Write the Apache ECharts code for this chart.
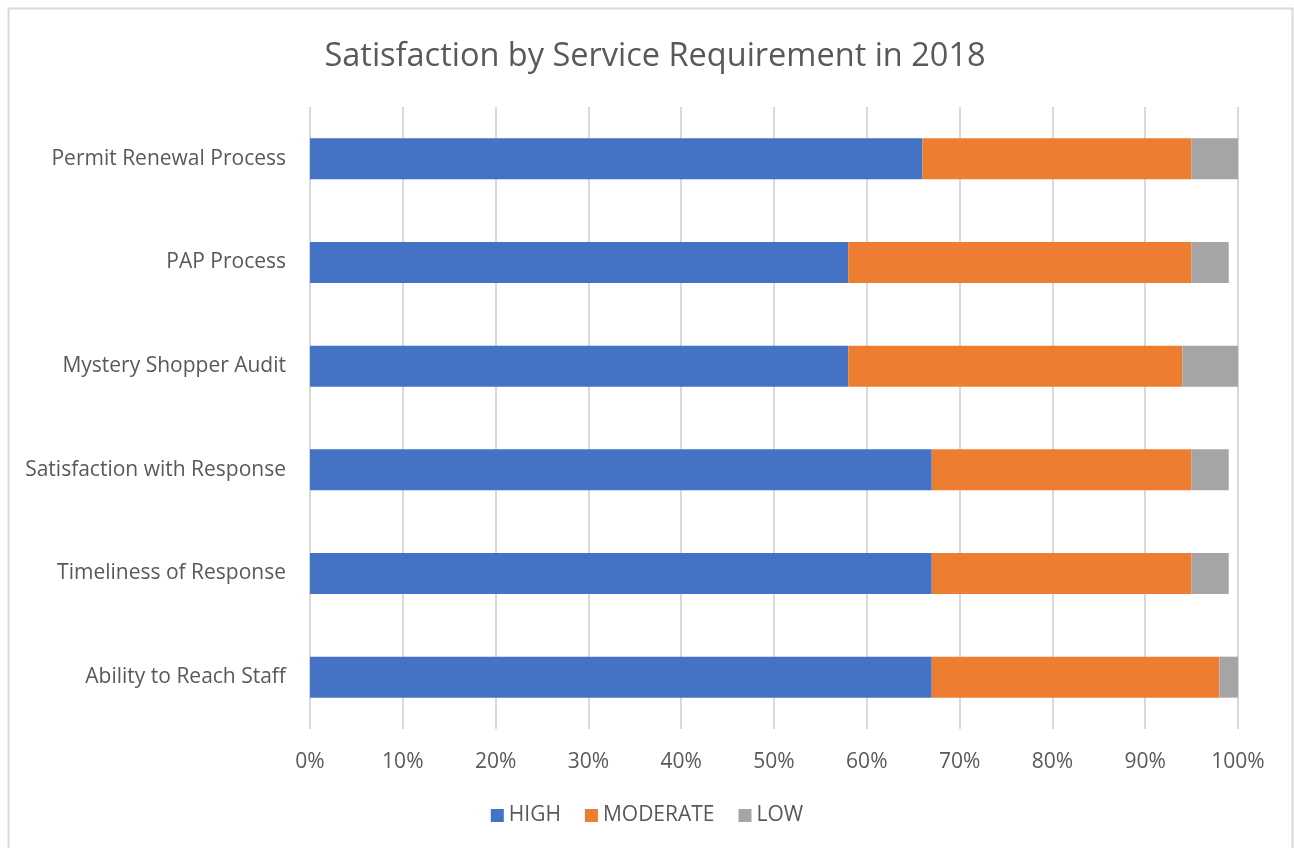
<!DOCTYPE html>
<html>
<head>
<meta charset="utf-8">
<script src="https://cdn.jsdelivr.net/npm/echarts@6/dist/echarts.min.js"></script>
<style>
  html, body { margin: 0; padding: 0; background: #fff; }
  #chart { width: 1294px; height: 848px; }
</style>
</head>
<body>
<div id="chart"></div>
<script>
// Service requirements, listed top to bottom
const categories = [
  'Permit Renewal Process',
  'PAP Process',
  'Mystery Shopper Audit',
  'Satisfaction with Response',
  'Timeliness of Response',
  'Ability to Reach Staff'
];
// Share of respondents (%) per satisfaction level
const highValues     = [66, 58, 58, 67, 67, 67];
const moderateValues = [29, 37, 36, 28, 28, 31];
const lowValues      = [5, 4, 6, 4, 4, 2];
const seriesNames = ['HIGH', 'MODERATE', 'LOW'];
const seriesColors = ['#4472C4', '#ED7D31', '#A5A5A5'];
const xTicks = { min: 0, max: 100, step: 10 };

const FONT = 'Open Sans';
const TEXT = '#595959';

const chart = echarts.init(document.getElementById('chart'), null, { renderer: 'canvas' });

const values = [highValues, moderateValues, lowValues];

chart.setOption({
  backgroundColor: '#fff',
  animation: false,
  title: {
    text: 'Satisfaction by Service Requirement in 2018',
    left: 650,
    textAlign: 'center',
    top: 35,
    textStyle: { fontFamily: FONT, fontSize: 32.5, fontWeight: 'normal', color: TEXT }
  },
  graphic: [{
    type: 'rect',
    shape: { x: 8.5, y: 8.5, width: 1284, height: 860 },
    style: { fill: 'none', stroke: '#d9d9d9', lineWidth: 2 },
    silent: true,
    z: -1
  }],
  legend: {
    data: seriesNames,
    bottom: 17,
    left: 'center',
    itemWidth: 13,
    itemHeight: 13,
    itemGap: 24,
    icon: 'rect',
    textStyle: { fontFamily: FONT, fontSize: 21, color: TEXT, padding: [0, 0, 0, 0] }
  },
  grid: { left: 310, right: 56, top: 107, bottom: 119, containLabel: false },
  xAxis: {
    type: 'value',
    min: xTicks.min,
    max: xTicks.max,
    interval: xTicks.step,
    axisLine: { show: false },
    axisTick: { show: false },
    axisLabel: {
      formatter: '{value}%',
      fontFamily: FONT, fontSize: 21, color: TEXT, margin: 23
    },
    splitLine: { lineStyle: { color: '#d9d9d9', width: 2 } }
  },
  yAxis: {
    type: 'category',
    data: categories,
    inverse: true,
    axisLine: { show: false },
    axisTick: { show: false },
    axisLabel: { fontFamily: FONT, fontSize: 21, color: TEXT, margin: 24 }
  },
  series: seriesNames.map((name, i) => ({
    name: name,
    type: 'bar',
    stack: 'total',
    barWidth: 41,
    data: values[i],
    itemStyle: { color: seriesColors[i] }
  }))
});
</script>
</body>
</html>
